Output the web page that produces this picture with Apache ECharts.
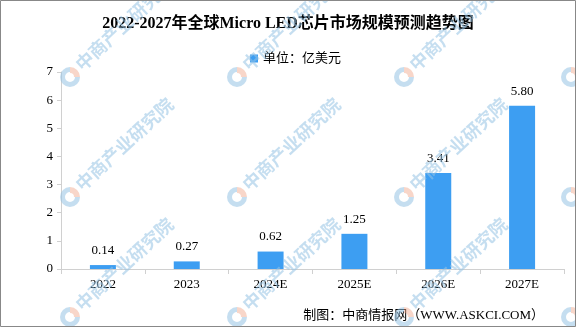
<!DOCTYPE html>
<html><head><meta charset="utf-8">
<script src="https://cdn.jsdelivr.net/npm/echarts@6/dist/echarts.min.js"></script>
<style>html,body{margin:0;padding:0;background:#fff}#c{width:576px;height:327px}</style>
</head><body><div id="c"></div>
<script>
const categories = ['2022', '2023', '2024E', '2025E', '2026E', '2027E'];
const values = [0.14, 0.27, 0.62, 1.25, 3.41, 5.80];
const seriesName = '单位：亿美元';
const titleText = '2022-2027年全球Micro LED芯片市场规模预测趋势图';
const footerText = '制图：中商情报网（WWW.ASKCI.COM）';
const watermarkText = '中商产业研究院';

const FONT = "'Liberation Serif','Noto Sans CJK SC',serif";
const chart = echarts.init(document.getElementById('c'), null, {renderer: 'canvas'});

const wmCols = [70, 237, 404, 571];
const wmRows = [77, 197, 317];
const watermarks = [];
wmRows.forEach(y => wmCols.forEach(x => {
  watermarks.push({type: 'arc', shape: {cx: x, cy: y, r: 7.5, startAngle: 0, endAngle: Math.PI * 1.5}, style: {fill: 'none', stroke: 'rgba(150,195,228,0.55)', lineWidth: 5}, silent: true, z: 100});
  watermarks.push({type: 'sector', shape: {cx: x, cy: y, r: 10, r0: 4, startAngle: -Math.PI / 2, endAngle: 0}, style: {fill: 'rgba(240,165,135,0.45)'}, silent: true, z: 100});
  watermarks.push({type: 'text', x: x + 8, y: y - 10, rotation: Math.PI / 4.2, style: {text: watermarkText, fill: 'rgba(150,195,228,0.55)', font: "bold 18px 'Noto Sans CJK SC'", textAlign: 'left', textVerticalAlign: 'middle'}, silent: true, z: 100});
}));

chart.setOption({
  animation: false,
  backgroundColor: '#fff',
  title: {
    text: titleText, left: 'center', top: 11,
    textStyle: {fontFamily: FONT, fontSize: 16, fontWeight: 'bold', color: '#000'}
  },
  legend: {
    data: [seriesName], left: 245, top: 47, icon: 'rect', itemWidth: 8, itemHeight: 8, itemGap: 5,
    textStyle: {fontFamily: FONT, fontSize: 13, color: '#000'}
  },
  grid: {left: 61, right: 12, top: 72, bottom: 58, containLabel: false},
  xAxis: {
    type: 'category', data: categories,
    axisLine: {lineStyle: {color: '#d0d0d0'}},
    axisTick: {show: true, length: 5, alignWithLabel: false, lineStyle: {color: '#d0d0d0'}},
    axisLabel: {color: '#000', fontFamily: FONT, fontSize: 13, margin: 9}
  },
  yAxis: {
    type: 'value', min: 0, max: 7, interval: 1,
    axisLine: {show: true, lineStyle: {color: '#d0d0d0'}},
    axisTick: {show: true, length: 4, lineStyle: {color: '#d0d0d0'}},
    splitLine: {show: false},
    axisLabel: {color: '#000', fontFamily: FONT, fontSize: 13, margin: 8}
  },
  series: [{
    name: seriesName, type: 'bar', data: values, barWidth: 26,
    itemStyle: {color: '#3d9ef2'},
    label: {show: true, position: 'top', distance: 8, color: '#000', fontFamily: FONT, fontSize: 13,
      formatter: p => p.value.toFixed(2)}
  }],
  graphic: watermarks.concat([
    {type: 'text', right: 32, top: 309, style: {text: footerText, fill: '#000', font: "13px 'Liberation Serif','Noto Sans CJK SC'"}},
    {type: 'rect', shape: {x: 0.5, y: 0.5, width: 575, height: 326}, style: {fill: 'none', stroke: '#888', lineWidth: 1}, silent: true, z: 101}
  ])
});
</script></body></html>
